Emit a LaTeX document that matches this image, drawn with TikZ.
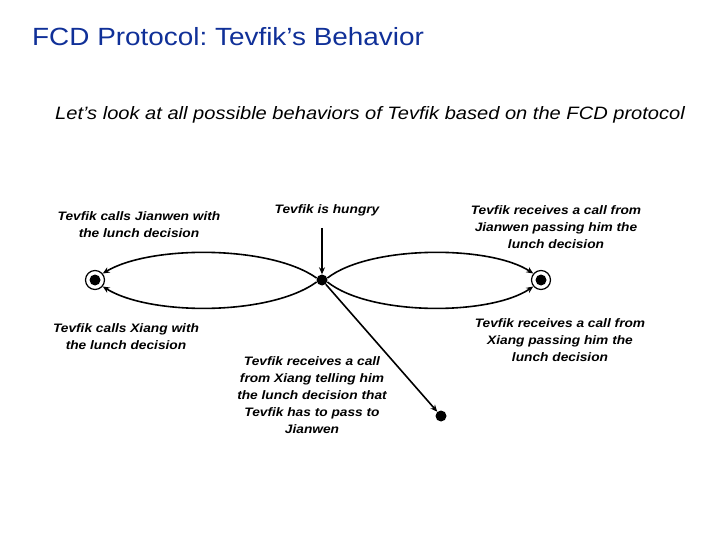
\documentclass[tikz,border=0pt]{standalone}
\usepackage{fontspec}
\setmainfont[FakeStretch=1.12]{Liberation Sans}
\usetikzlibrary{arrows.meta}
\definecolor{titleblue}{RGB}{16,48,152}
\frenchspacing
\begin{document}
\begin{tikzpicture}[x=1bp,y=1bp,
  dot/.style={circle,fill=black,inner sep=0pt,minimum size=11bp},
  final/.style={circle,draw=black,line width=1.2bp,fill=white,inner sep=0pt,minimum size=19bp,
    path picture={\fill[black] (path picture bounding box.center) circle (5.5bp);}},
  arr/.style={line width=1.6bp,-{Stealth[length=7bp,width=6bp]}},
  lbl/.style={font=\fontsize{12.3}{17}\selectfont\bfseries\itshape,align=center,inner sep=0pt}]
\useasboundingbox (0,0) rectangle (720,-540);
\node[anchor=base west,text=titleblue,font=\fontsize{25}{28}\selectfont,inner sep=0pt] (title) at (32,-46) {FCD Protocol: Tevfik’s Behavior};
\node[anchor=base west,font=\fontsize{18}{20}\selectfont\itshape,inner sep=0pt] (sub) at (55,-120) {Let’s look at all possible behaviors of Tevfik based on the FCD protocol};
\node[dot] (c) at (322,-280) {};
\node[final] (L) at (95,-280) {};
\node[final] (R) at (541,-280) {};
\node[dot] (d) at (441,-416) {};
\coordinate (top) at (322,-228);
\draw[arr] (c.160) .. controls (270,-245) and (150,-245) .. (L.40);
\draw[arr] (c.200) .. controls (270,-316) and (150,-316) .. (L.-40);
\draw[arr] (c.20) .. controls (370,-245) and (490,-245) .. (R.140);
\draw[arr] (c.-20) .. controls (370,-316) and (490,-316) .. (R.-140);
\draw[arr] (top) -- (c.north);
\draw[arr] (c) -- (d);
\node[lbl] (l1) at (139,-225) {Tevfik calls Jianwen with\\the lunch decision};
\node[lbl] (l2) at (327,-210) {Tevfik is hungry};
\node[lbl] (l3) at (556,-227) {Tevfik receives a call from\\Jianwen passing him the\\lunch decision};
\node[lbl] (l4) at (126,-337) {Tevfik calls Xiang with\\the lunch decision};
\node[lbl] (l5) at (312,-395) {Tevfik receives a call\\from Xiang telling him\\the lunch decision that\\Tevfik has to pass to\\Jianwen};
\node[lbl] (l6) at (560,-340) {Tevfik receives a call from\\Xiang passing him the\\lunch decision};
\end{tikzpicture}
\end{document}
